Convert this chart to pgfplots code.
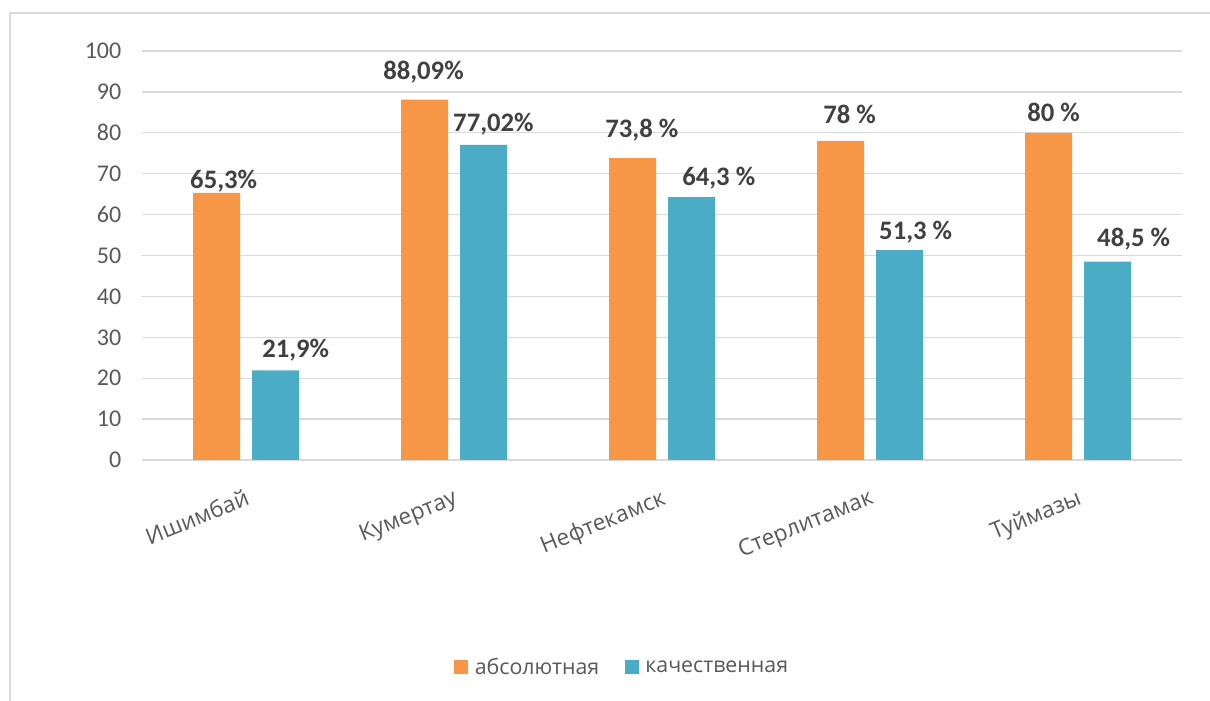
\documentclass[border=0pt]{standalone}
\usepackage{pgfplots}
\usepackage{pgfplotstable}
\pgfplotsset{compat=1.18}
\usepackage{fontspec}
\setmainfont{Carlito}
\newfontfamily\uifont{Open Sans}
\definecolor{absol}{HTML}{F79646}
\definecolor{kach}{HTML}{4BACC6}
\definecolor{txt}{HTML}{595959}
\definecolor{lbl}{HTML}{404040}
\definecolor{gridc}{HTML}{D9D9D9}

% x, value, label offset (pt) from bar top centre, label
\pgfplotstableread{
x y dx dy lab
0 65.3 -19.9 3 {65,3\%}
1 88.09 -31.1 15 {88,09\%}
2 73.8 -20.5 15.75 {73,8 \%}
3 78 -13.1 12.75 {78 \%}
4 80 -16.1 8.25 {80 \%}
}\absdata
\pgfplotstableread{
x y dx dy lab
0 21.9 -10.1 9.75 {21,9\%}
1 77.02 -22.9 9.75 {77,02\%}
2 64.3 -7.1 9 {64,3 \%}
3 51.3 -15.4 8.25 {51,3 \%}
4 48.5 -7.9 11.25 {48,5 \%}
}\kachdata

\begin{document}
\begin{tikzpicture}
    \useasboundingbox (0,0) rectangle (907.5pt,525pt);
    % chart frame (left and top edges visible)
    \draw[gridc, line width=1.5pt] (7.5pt,-5pt) -- (7.5pt,515.25pt) -- (915pt,515.25pt);
    \begin{axis}[
        at={(106.5pt,180pt)}, anchor=south west,
        scale only axis,
        width=780pt, height=306.75pt,
        ybar=9pt, bar width=35.25pt,
        xmin=-0.5, xmax=4.5, ymin=0, ymax=100,
        xtick={0,1,2,3,4},
        xticklabels={Ишимбай, Кумертау, Нефтекамск, Стерлитамак, Туймазы},
        ytick={0,10,...,100},
        major tick length=0pt,
        ymajorgrids, grid style={gridc, line width=1pt},
        axis x line*=bottom, axis y line*=left,
        x axis line style={gridc, line width=1pt, -},
        y axis line style={draw=none},
        /pgf/number format/assume math mode=true,
        y tick label style={txt, font=\fontsize{18}{21}\selectfont, anchor=east, xshift=-12pt},
        x tick label style={txt, rotate=22, anchor=north east, inner sep=0pt, yshift=-19pt, xshift=-9pt,
            font=\uifont\fontsize{17}{20}\selectfont},
        nodes near coords,
        point meta=explicit symbolic,
        visualization depends on={\thisrow{dx} \as \labdx},
        visualization depends on={\thisrow{dy} \as \labdy},
        every node near coord/.append style={lbl, font=\bfseries\fontsize{20}{24}\selectfont,
            inner sep=0pt, anchor=base west, xshift=\labdx pt, yshift=\labdy pt},
        clip=false,
        legend style={at={(0.462,-0.508)}, anchor=center, draw=none, legend columns=2,
            font=\uifont\fontsize{16}{19}\selectfont, text=txt,
            /tikz/every even column/.append style={column sep=17pt}},
        legend image code/.code={\fill[#1] (0pt,-5pt) rectangle (10.5pt,5.5pt);},
    ]
        \addplot[fill=absol, draw=none] table[x=x, y=y, meta=lab] {\absdata};
        \addplot[fill=kach, draw=none] table[x=x, y=y, meta=lab] {\kachdata};
        \legend{\hspace{3pt}абсолютная, \hspace{3pt}качественная}
    \end{axis}
\end{tikzpicture}
\end{document}
